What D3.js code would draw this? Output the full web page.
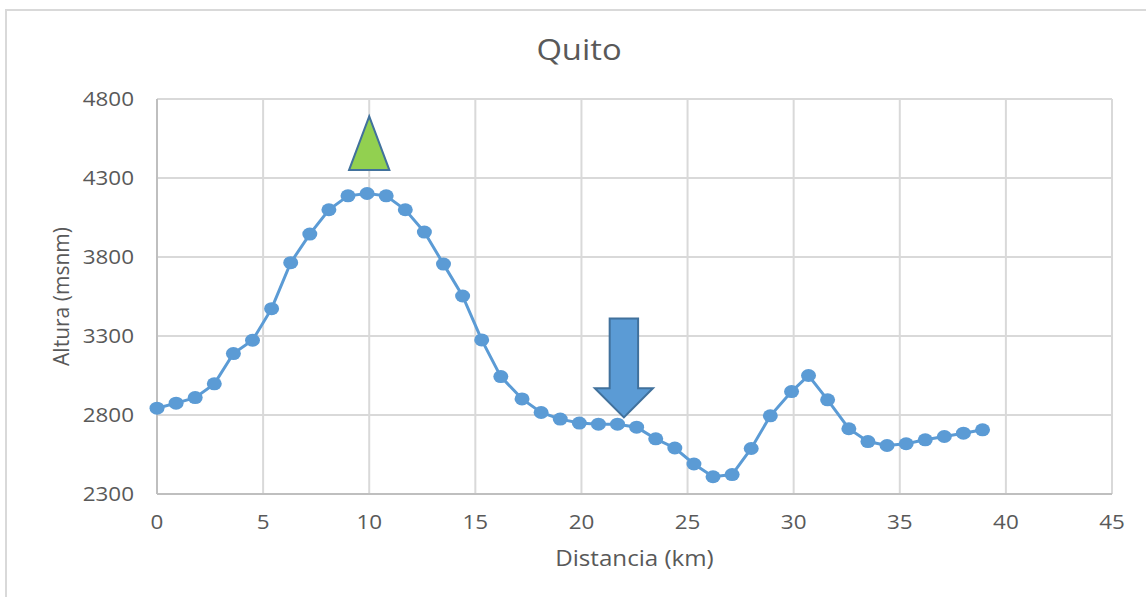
<!DOCTYPE html>
<html>
<head>
<meta charset="utf-8">
<script src="https://cdn.jsdelivr.net/npm/d3@7"></script>
<style>
	body { margin: 0; background: #fff; }
	text { font-family: "Open Sans", sans-serif; fill: #595959; }
</style>
</head>
<body>
<div id="chart"></div>
<script>
// perfil de altura - Quito
var distancia = [0, 0.9, 1.8, 2.7, 3.6, 4.5, 5.4, 6.3, 7.2, 8.1, 9.0, 9.9, 10.8, 11.7, 12.6, 13.5, 14.4, 15.3,
	16.2, 17.2, 18.1, 19.0, 19.9, 20.8, 21.7, 22.6, 23.5, 24.4, 25.3, 26.2, 27.1, 28.0, 28.9, 29.9,
	30.7, 31.6, 32.6, 33.5, 34.4, 35.3, 36.2, 37.1, 38.0, 38.9];
var altura = [2843, 2875, 2910, 2997, 3189, 3273, 3473, 3764, 3945, 4099, 4187, 4202, 4187, 4099, 3958, 3755, 3553, 3275,
	3043, 2902, 2816, 2774, 2749, 2742, 2742, 2723, 2649, 2591, 2490, 2409, 2423, 2588, 2795, 2948,
	3050, 2896, 2713, 2632, 2607, 2618, 2643, 2664, 2685, 2706];
var xTicks = [0, 5, 10, 15, 20, 25, 30, 35, 40, 45];
var yTicks = [2300, 2800, 3300, 3800, 4300, 4800];
// marcas: triangulo (cumbre) y flecha (Quito)
var cumbre = { km: 10, top: 4690, base: 4350, halfWidth: 0.95 };
var flecha = { km: 22.0, top: 3410, headStart: 2970, tip: 2785, shaftHalf: 0.67, headHalf: 1.37 };

var width = 1146, height = 597;
var margin = { left: 157, right: 34, top: 99, bottom: 103 };
var stretch = 1.15;   // el texto original sale algo ensanchado

var svg = d3.select("#chart").append("svg")
	.attr("width", width)
	.attr("height", height);

function label(px, py, size, anchor, txt, rot) {
	return svg.append("text")
		.attr("transform", "translate(" + px + "," + py + ")" + (rot ? " rotate(-90)" : " scale(" + stretch + ",1)"))
		.attr("text-anchor", anchor)
		.style("font-size", size + "px")
		.text(txt);
}

// marco del grafico
svg.append("rect")
	.attr("x", 6).attr("y", 10)
	.attr("width", width + 10).attr("height", height + 10)
	.attr("fill", "none")
	.attr("stroke", "#D9D9D9")
	.attr("stroke-width", 2);

var x = d3.scaleLinear().domain([0, 45]).range([margin.left, width - margin.right]);
var y = d3.scaleLinear().domain([2300, 4800]).range([height - margin.bottom, margin.top]);

// grid
svg.append("g").selectAll("line.v")
	.data(xTicks)
	.enter().append("line")
	.attr("x1", function(d) { return x(d); })
	.attr("x2", function(d) { return x(d); })
	.attr("y1", y(2300)).attr("y2", y(4800))
	.attr("stroke", "#D9D9D9").attr("stroke-width", 2);

svg.append("g").selectAll("line.h")
	.data(yTicks)
	.enter().append("line")
	.attr("x1", x(0)).attr("x2", x(45))
	.attr("y1", function(d) { return y(d); })
	.attr("y2", function(d) { return y(d); })
	.attr("stroke", "#D9D9D9").attr("stroke-width", 2);

// ejes
svg.append("line")
	.attr("x1", x(0)).attr("x2", x(0)).attr("y1", y(2300)).attr("y2", y(4800))
	.attr("stroke", "#BFBFBF").attr("stroke-width", 2);
svg.append("line")
	.attr("x1", x(0)).attr("x2", x(45)).attr("y1", y(2300)).attr("y2", y(2300))
	.attr("stroke", "#BFBFBF").attr("stroke-width", 2);

// etiquetas de los ejes
xTicks.forEach(function(d) {
	label(x(d), y(2300) + 35, 19.5, "middle", d);
});
yTicks.forEach(function(d) {
	label(x(0) - 23, y(d) + 7, 19.5, "end", d);
});

label((x(0) + x(45)) / 2, 566, 21, "middle", "Distancia (km)");
label(69, (y(2300) + y(4800)) / 2, 21, "middle", "Altura (msnm)", true);
label(579, 60, 28.5, "middle", "Quito");

// serie
var puntos = distancia.map(function(d, i) { return [d, altura[i]]; });

svg.append("path")
	.datum(puntos)
	.attr("fill", "none")
	.attr("stroke", "#5B9BD5")
	.attr("stroke-width", 3)
	.attr("d", d3.line()
		.x(function(d) { return x(d[0]); })
		.y(function(d) { return y(d[1]); }));

svg.append("g").selectAll("ellipse")
	.data(puntos)
	.enter().append("ellipse")
	.attr("cx", function(d) { return x(d[0]); })
	.attr("cy", function(d) { return y(d[1]); })
	.attr("rx", 7.5)
	.attr("ry", 6.5)
	.attr("fill", "#5B9BD5");

// triangulo verde
svg.append("path")
	.attr("d", d3.line()([
		[x(cumbre.km), y(cumbre.top)],
		[x(cumbre.km + cumbre.halfWidth), y(cumbre.base)],
		[x(cumbre.km - cumbre.halfWidth), y(cumbre.base)]
	]) + "Z")
	.attr("fill", "#92D050")
	.attr("stroke", "#41719C")
	.attr("stroke-width", 2);

// flecha azul
svg.append("path")
	.attr("d", d3.line()([
		[x(flecha.km - flecha.shaftHalf), y(flecha.top)],
		[x(flecha.km + flecha.shaftHalf), y(flecha.top)],
		[x(flecha.km + flecha.shaftHalf), y(flecha.headStart)],
		[x(flecha.km + flecha.headHalf), y(flecha.headStart)],
		[x(flecha.km), y(flecha.tip)],
		[x(flecha.km - flecha.headHalf), y(flecha.headStart)],
		[x(flecha.km - flecha.shaftHalf), y(flecha.headStart)]
	]) + "Z")
	.attr("fill", "#5B9BD5")
	.attr("stroke", "#41719C")
	.attr("stroke-width", 2);
</script>
</body>
</html>
